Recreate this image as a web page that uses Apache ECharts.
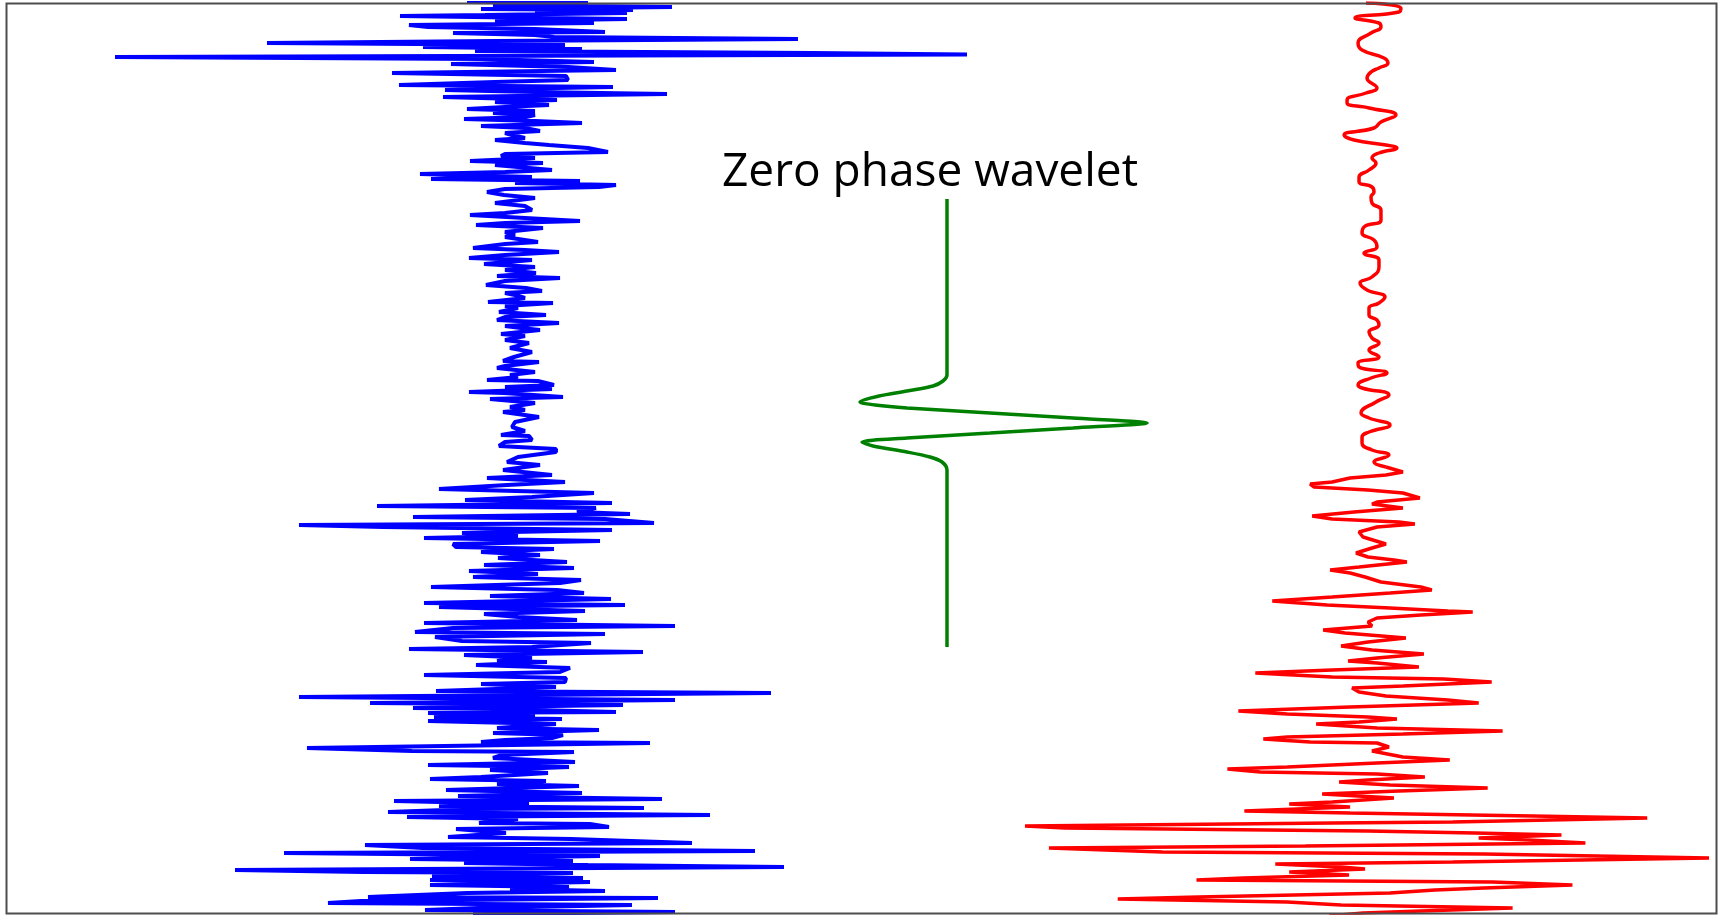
<!DOCTYPE html>
<html>
<head>
<meta charset="utf-8">
<script src="https://cdn.jsdelivr.net/npm/echarts@6/dist/echarts.min.js"></script>
<style>
html,body{margin:0;padding:0;background:#fff;}
#chart{width:1721px;height:915px;}
</style>
</head>
<body>
<div id="chart"></div>
<script>
// Reflectivity series (blue): time (ms) and reflection amplitude
const blueTime = [2,3,5,7,9,10,12,13,15,16,18,19,21,23,25,27,29,32,33,35,37,39,41,43,45,47,49,51,53,54.5,57,59,62,64,67,70,73,76,80,82,85,87,90,92,94,97,100,102,105,107,109,111,113,115,117,119,121,123,126,128,131,133,135,138,140,143,145,148,152,154,156,158,161,163,165,167,170,172,174,177,179,181,183,185,187,189,192,195,198,200,203,206,210,213,215,218,221,223,225,228,
232,235,237,242,244,248,250,252,255,258,260,264,267,270,273,276,278,281,285,288,291,293,295,298,302,303,306,308,312,315,317,320,323,326,328,330,334,336,340,343,348,352,357,361,362,364,366,368,372,375,377,380,381,385,387,389,392,393,397,399,403,407,410,412,417,422,427,431,435,436,440,442,446,449,
452,457,462,465,470,475,478,482,485,489,493,497,500,503,506,508,512,514,517,519,523,525,527,530,533,536,538,541,544,547,549,552,555,558,562,565,568,571,574,577,580,583,587,590,593,596,599,603,605,607,611,614,617,620,623,626,628,632,634,637,641,643,647,649,652,655,658,661,662,665,668,672,675,678,
682,684,687,691,693,697,700,703,705,708,709,712,713,715,717,719,721,724,728,730,733,735,738,740,742,743,748,751,752,755,758,762,765,767,770,773,777,779,781,784,786,790,793,796,799,801,804,806,808,809,812,815,817,819,823,824,827,829,833,837,839,843,845,848,851,853,856,859,861,863,865,867,870,872,873,876,878,880,882,885,887,889,891,893,897,898,901,903,905,908,910,912,914,916];
const blueAmp = [-0.48,0.73,-0.22,1.57,-0.34,1.18,0.2,1.12,-0.3,-1.15,0.3,1.12,-0.2,0.79,-1.06,-0.87,0.2,0.90,-0.62,0.2,0.39,2.83,-0.2,-2.48,0.5,-0.92,0.67,-0.4,2.97,4.52,-4.0,-0.34,0.79,-0.64,0.53,1.01,-1.23,0.51,0.53,-0.2,-1.16,0.98,-0.70,0.2,1.52,-0.72,0.42,-0.2,0.34,-0.1,-0.48,0.2,-0.22,0.20,0.11,-0.51,0.2,0.67,-0.34,0.1,0.25,-0.1,-0.03,0.1,-0.20,0.1,0.34,0.73,0.93,-0.1,-0.14,0.2,-0.45,0.28,-0.2,-0.22,0.37,-0.1,-0.95,0.17,-0.84,0.65,0.0,1.01,0.84,-0.1,-0.28,-0.11,0.2,0.20,-0.20,0.1,0.17,-0.1,-0.45,0.1,0.65,-0.1,-0.39,0.28,
-0.1,0.0,-0.1,0.23,-0.1,-0.42,0.1,0.44,-0.1,-0.46,0.17,-0.31,0.20,-0.1,0.21,-0.18,0.45,-0.1,-0.29,0.11,0.27,-0.1,0.0,0.1,-0.27,0.38,-0.1,0.03,-0.16,0.31,-0.1,-0.18,0.44,-0.1,0.06,0.25,-0.14,0.1,-0.10,0.14,-0.05,0.17,-0.01,-0.12,0.24,0.23,-0.1,-0.18,0.20,-0.05,0.03,-0.28,0.23,0.39,-0.1,0.37,-0.46,-0.11,0.48,-0.25,0.20,-0.05,0.1,-0.12,0.24,0.0,-0.03,0.1,-0.14,0.14,0.17,-0.1,-0.16,0.41,
0.41,0.03,-0.08,0.25,-0.12,0.37,-0.28,0.50,-0.08,-0.76,0.79,0.17,-0.50,0.97,-1.38,0.81,0.62,1.15,-1.02,0.90,1.39,-2.16,-1.32,0.97,-0.53,0.03,-0.91,0.85,-0.62,-0.59,0.39,-0.34,0.25,-0.17,0.52,-0.31,0.59,-0.46,0.23,-0.42,0.66,0.45,-0.84,0.42,0.69,-0.25,0.96,-0.91,1.10,-0.76,0.70,-0.31,0.03,0.62,-0.91,1.60,-0.62,-1.00,0.90,-0.80,-0.53,0.76,0.17,-1.06,1.28,-0.51,0.17,-0.18,0.32,-0.39,0.55,0.45,-0.91,0.51,
0.50,-0.34,0.41,-0.79,2.56,-2.16,1.60,-1.45,1.08,-1.02,-0.2,1.01,-0.87,0.2,-0.81,0.47,-0.87,0.41,-0.18,0.84,-0.22,0.48,0.37,-0.1,-0.34,1.35,-2.08,-1.03,0.59,-0.13,-0.22,0.60,-0.87,0.54,-0.25,0.33,-0.34,-0.85,0.31,-0.18,0.64,-0.69,0.67,-0.57,1.47,-1.21,0.14,-0.76,1.29,-0.41,-1.27,1.95,-1.08,0.03,-0.36,0.75,0.94,-0.59,-0.09,-0.67,0.56,1.77,-1.50,-0.92,2.40,-2.31,0.85,-1.05,0.58,-0.51,0.73,2.69,-2.80,-1.52,0.58,-0.83,0.68,-0.85,0.75,-0.85,0.54,-0.05,0.90,-0.48,-1.47,1.43,-1.54,-1.87,1.17,-0.36,-0.90,1.60,-0.42,0.3];

// Synthetic seismogram (red): upper, gently oscillating part
const redUpperTime = [3,8,12,18,23,27,33,43,50,58,63,68,72,78,88,93,100,103,108,115,122,128,135,140,145,148,153,158,163,170,177,182,187,192,197,203,210,220,227,233,240,247,253,260,267,277,283,290,297,303,308,315,320,325,332,338,343,350,357,363,367,373,378,385,388,395,402,413,418,425,432,437,443,450,455,462,467];
const redUpperAmp = [-0.06,0.29,0.27,-0.17,0.07,0.09,-0.01,-0.14,-0.10,0.12,0.16,0.07,-0.01,-0.05,0.05,-0.06,-0.25,-0.25,-0.03,0.24,0.09,0.02,-0.28,-0.18,0.14,0.25,0.07,0.00,0.04,-0.03,-0.13,-0.13,0.00,0.02,-0.01,0.00,0.09,0.09,-0.08,-0.10,0.02,0.05,-0.08,0.07,0.07,0.00,-0.12,-0.05,0.13,0.07,-0.03,-0.03,0.05,0.07,-0.03,0.00,0.07,-0.03,0.07,-0.14,-0.13,0.15,-0.01,-0.14,-0.10,0.17,0.04,-0.11,-0.03,0.18,-0.03,-0.10,-0.10,0.00,0.17,0.02,0.14];
// Synthetic seismogram (red): lower, strongly swinging part
const redLowerTime = [467,472,475,478,482,484,487,490,493,498,502,504,508,512,516,519,522,524,527,532,537,544,548,553,557,560,562,567,570,573,577,582,587,590,593,597,601,605,608,611,612,615,618,622,626,630,633,638,642,646,650,654,658,661,663,667,670,673,677,679,682,686,688,692,696,700,703,707,711,714,717,719,722,724,728,731,734,737,739,742,743,747,751,753,757,760,763,767,769,772,774,777,780,782,785,788,791,794,798,802,804,807,811,813,816,818,822,823,826,828,831,833,835,838,840,843,846,848,852,854,858,862,864,867,869,872,875,878,880,882,885,888,890,893,897,899,902,905,908,911,913,916];
const redLowerAmp = [0.14,0.31,0.14,-0.22,-0.40,-0.62,-0.58,-0.04,0.31,0.48,0.05,0.00,0.31,-0.18,-0.60,-0.40,0.27,0.43,0.05,-0.13,-0.09,0.14,0.00,-0.16,-0.04,0.22,0.35,-0.13,-0.42,-0.22,-0.07,0.09,0.49,0.60,0.18,-0.40,-1.00,-0.45,0.18,0.76,1.01,0.49,0.05,-0.04,0.00,-0.49,-0.27,0.34,-0.04,-0.31,0.00,0.52,0.05,-0.24,0.05,0.47,-0.40,-1.17,-0.40,0.72,1.20,0.31,-0.20,-0.13,0.14,0.76,1.07,-0.22,-1.34,-0.85,-0.04,0.25,-0.13,-0.56,0.05,1.31,0.31,-0.85,-1.09,-0.62,0.05,0.17,0.00,0.00,0.31,0.78,0.05,-0.85,-1.45,-1.12,0.05,0.53,-0.04,-0.33,0.18,1.16,0.27,-0.50,0.22,-0.40,-0.83,-0.22,-1.28,-0.22,1.61,2.76,0.81,-0.40,-3.48,-3.08,-0.04,1.03,1.90,1.07,1.57,2.14,-0.67,-3.24,-2.10,1.12,3.38,0.81,-0.97,-0.31,-0.07,-0.83,-0.23,-1.29,-1.76,1.21,2.01,1.12,0.63,0.18,-1.74,-2.55,-0.85,-0.31,1.41,0.49,-0.09,-0.43];

// Zero phase wavelet (green): time relative to centre (ms) and amplitude
const waveTime = [-224,-48,-42,-37,-32,-27,-21,-18,-15,-10,-5,0,5,10,15,19,23,29,34,39,47,224];
const waveAmp = [0,0,-0.02,-0.07,-0.20,-0.34,-0.435,-0.36,-0.20,0.215,0.63,1.0,0.63,0.215,-0.20,-0.425,-0.37,-0.20,-0.085,-0.025,0,0];

const title = 'Zero phase wavelet';

const pairs = (a, t) => a.map((v, i) => [v, t[i]]);
const hiddenAxis = (idx, min, max, inv) => ({
  type: 'value', gridIndex: idx, min: min, max: max, inverse: !!inv,
  show: false, splitLine: {show: false}
});

const chart = echarts.init(document.getElementById('chart'), null, {renderer: 'canvas'});
chart.setOption({
  backgroundColor: '#ffffff',
  animation: false,
  grid: [
    {left: 15, width: 1000, top: 3, height: 910},
    {left: 1023, width: 700, top: 3, height: 910},
    {left: 747, width: 400, top: 199, height: 448}
  ],
  xAxis: [hiddenAxis(0, -5, 5), hiddenAxis(1, -3.5, 3.5), hiddenAxis(2, -1, 1)],
  yAxis: [hiddenAxis(0, 3, 913, true), hiddenAxis(1, 3, 913, true), hiddenAxis(2, -224, 224, true)],
  series: [
    {type: 'line', xAxisIndex: 0, yAxisIndex: 0, data: pairs(blueAmp, blueTime),
     showSymbol: false, symbol: 'none', lineStyle: {color: '#0000ff', width: 4}, silent: true},
    {type: 'line', xAxisIndex: 1, yAxisIndex: 1, data: pairs(redUpperAmp, redUpperTime), smooth: 0.5,
     showSymbol: false, symbol: 'none', lineStyle: {color: '#ff0000', width: 3.5}, silent: true},
    {type: 'line', xAxisIndex: 1, yAxisIndex: 1, data: pairs(redLowerAmp, redLowerTime),
     showSymbol: false, symbol: 'none', lineStyle: {color: '#ff0000', width: 3.5}, silent: true},
    {type: 'line', xAxisIndex: 2, yAxisIndex: 2, data: pairs(waveAmp, waveTime), smooth: 0.3,
     showSymbol: false, symbol: 'none', lineStyle: {color: '#008000', width: 3.5}, silent: true}
  ],
  graphic: [
    {type: 'rect', z: 100, silent: true,
     shape: {x: 6.5, y: 3.5, width: 1710, height: 910},
     style: {fill: 'none', stroke: '#4d4d4d', lineWidth: 2}},
    {type: 'text', z: 100, silent: true, x: 930, y: 173,
     style: {text: title, fill: '#000', font: '46px "Open Sans"', textAlign: 'center', textVerticalAlign: 'middle'}}
  ]
});
</script>
</body>
</html>
